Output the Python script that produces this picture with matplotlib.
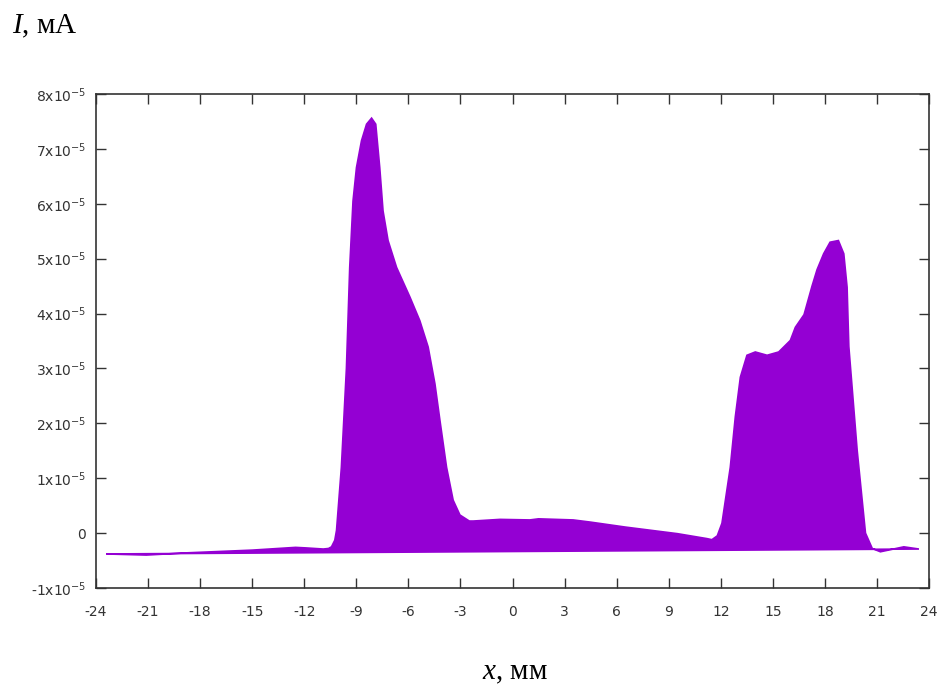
import matplotlib.pyplot as plt
import numpy as np

# Probe position x (mm) and measured current (units of 1e-5 mA)
x_mm = [-23.4, -21.1, -18.8, -15.0, -12.5, -11.9, -10.9, -10.6, -10.43, -10.24,
        -10.14, -9.86, -9.57, -9.38, -9.19, -8.99, -8.70, -8.41, -8.12, -7.88,
        -7.65, -7.46, -7.17, -6.68, -5.91, -5.34, -4.86, -4.47, -4.18, -3.80,
        -3.42, -3.03, -2.49, -2.26, -0.72, 1.0, 1.5, 3.5, 4.5, 6.5,
        9.5, 11.2, 11.49, 11.8, 12.07, 12.55, 12.84, 13.13, 13.51, 13.99,
        14.67, 15.34, 16.01, 16.3, 16.8, 17.26, 17.55, 17.93, 18.3, 18.78,
        19.09, 19.28, 19.38, 19.86, 20.34, 20.73, 21.2, 22.55, 23.42]
current_e5 = [-0.38, -0.40, -0.36, -0.31, -0.26, -0.27, -0.29, -0.28, -0.25, -0.13,
              0.05, 1.2, 3.0, 4.84, 6.05, 6.66, 7.15, 7.45, 7.56, 7.45,
              6.66, 5.87, 5.33, 4.84, 4.3, 3.87, 3.39, 2.72, 2.05, 1.2,
              0.6, 0.33, 0.22, 0.22, 0.25, 0.24, 0.26, 0.24, 0.2, 0.11,
              -0.01, -0.1, -0.12, -0.05, 0.18, 1.2, 2.12, 2.84, 3.24, 3.3,
              3.24, 3.3, 3.51, 3.75, 3.98, 4.5, 4.8, 5.09, 5.3, 5.33,
              5.09, 4.48, 3.4, 1.51, 0.0, -0.28, -0.34, -0.25, -0.29]

x_ticks = np.arange(-24, 25, 3)
y_ticks = np.arange(-1, 9) * 1e-5
y_labels = ['-1x10$^{-5}$', '0'] + ['%dx10$^{-5}$' % k for k in range(1, 9)]

plt.rcParams['mathtext.fontset'] = 'custom'
plt.rcParams['mathtext.rm'] = 'Liberation Serif'
plt.rcParams['mathtext.it'] = 'Liberation Serif:italic'

color = '#9400D3'
ink = '#333333'

x = np.array(x_mm)
y = np.array(current_e5) * 1e-5

fig = plt.figure(figsize=(9.43, 6.97), dpi=100)
ax = fig.add_axes([96 / 943, 1 - 588 / 697, (929 - 96) / 943, (588 - 94) / 697])

# closed filled curve (like gnuplot filledcurves closed)
ax.fill(x, y, color=color, linewidth=1.2, edgecolor=color)

ax.set_xlim(-24, 24)
ax.set_ylim(-1e-5, 8e-5)
ax.set_xticks(x_ticks)
ax.set_xticklabels([str(t) for t in x_ticks], fontsize=10, color=ink,
                   family='DejaVu Sans')
ax.set_yticks(y_ticks)
ax.set_yticklabels(y_labels, fontsize=10, color=ink, family='DejaVu Sans',
                   math_fontfamily='dejavusans')

ax.tick_params(direction='in', length=7, width=1, color=ink,
               top=True, right=True)
ax.tick_params(axis='x', pad=12)
ax.tick_params(axis='y', pad=7)
for s in ax.spines.values():
    s.set_color(ink)
    s.set_linewidth(1.2)

fig.text(12 / 943, 1 - 33 / 697, r'$I$, мА', fontsize=21,
         family='Liberation Serif', va='baseline', ha='left')
fig.text(482 / 943, 1 - 679 / 697, r'$x$, мм', fontsize=21,
         family='Liberation Serif', va='baseline', ha='left')

fig.savefig('out.png', dpi=100)
